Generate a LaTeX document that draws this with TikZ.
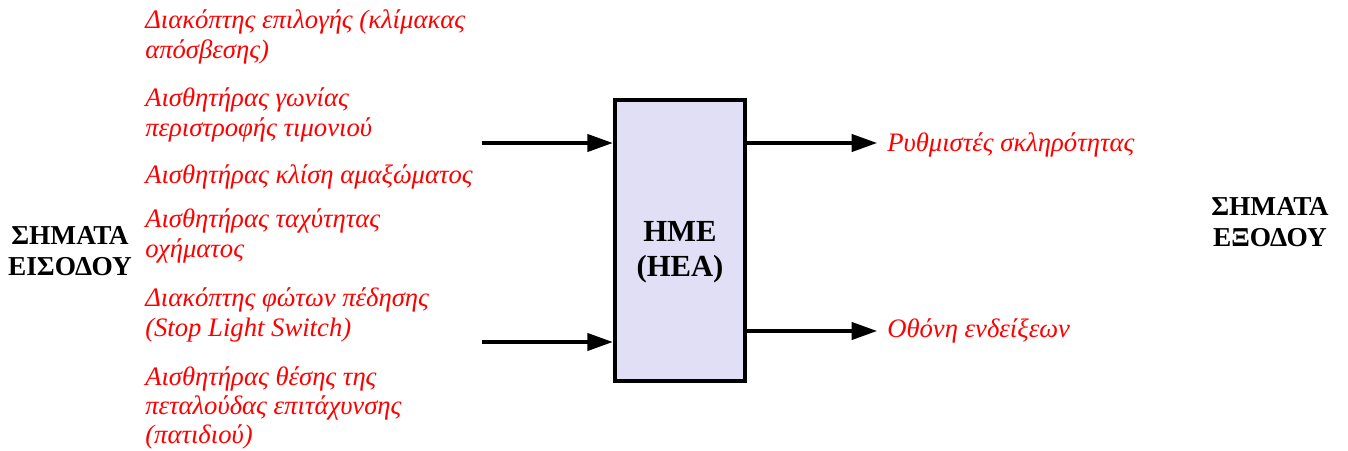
\documentclass[tikz,border=0pt]{standalone}
\usepackage{fontspec}
\setmainfont{Liberation Serif}
\newfontfamily\diagfont{Liberation Serif}
\usepackage{xcolor}
\usetikzlibrary{arrows.meta}
\definecolor{sig_red}{HTML}{FF0000}
\definecolor{ecu_fill}{HTML}{E0DFF5}

\tikzset{
    sig label/.style={anchor=west, align=left, text=sig_red, inner sep=0pt,
        font=\diagfont\fontsize{20}{22}\selectfont\itshape},
    head label/.style={align=center, inner sep=0pt,
        font=\diagfont\fontsize{20.5}{23.5}\selectfont\bfseries},
    sig arrow/.style={line width=2.3pt, -{Triangle[length=19pt, width=13pt]}},
}

\begin{document}
\begin{tikzpicture}[x=0.75pt, y=-0.75pt]
            \useasboundingbox (0, 0) rectangle (1348, 450);

            % control unit
            \node[draw, line width=3pt, fill=ecu_fill, minimum width=98pt, minimum height=211pt] (ecu) at (680, 240.5) {};
            \node[font=\diagfont\fontsize{23}{26.5}\selectfont\bfseries, align=center, inner sep=0pt] (ecutext) at (680, 252) {HME\\(HEA)};

            % input signals
            \node[sig label] (in1) at (145, 37) {Διακόπτης επιλογής (κλίμακας\\απόσβεσης)};
            \node[sig label] (in2) at (145, 115) {Αισθητήρας γωνίας\\περιστροφής τιμονιού};
            \node[sig label] (in3) at (145, 177) {Αισθητήρας κλίση αμαξώματος};
            \node[sig label] (in4) at (145, 236) {Αισθητήρας ταχύτητας\\οχήματος};
            \node[sig label] (in5) at (145, 315) {Διακόπτης φώτων πέδησης\\(Stop Light Switch)};
            \node[sig label] (in6) at (145, 408) {Αισθητήρας θέσης της\\πεταλούδας επιτάχυνσης\\(πατιδιού)};

            \node[head label] (inhead) at (70, 251) {ΣΗΜΑΤΑ\\ΕΙΣΟΔΟΥ};

            % output signals
            \node[sig label] (out1) at (887, 145) {Ρυθμιστές σκληρότητας};
            \node[sig label] (out2) at (887, 331) {Οθόνη ενδείξεων};

            \node[head label] (outhead) at (1270, 222) {ΣΗΜΑΤΑ\\ΕΞΟΔΟΥ};

            % connectors
            \coordinate (a1) at (482, 143);
            \coordinate (a2) at (482, 342);
            \coordinate (b1) at (877, 143);
            \coordinate (b2) at (877, 331);

            \draw[sig arrow] (a1) -- (a1 -| ecu.west);
            \draw[sig arrow] (a2) -- (a2 -| ecu.west);
            \draw[sig arrow] (b1 -| ecu.east) -- (b1);
            \draw[sig arrow] (b2 -| ecu.east) -- (b2);

        \end{tikzpicture}
\end{document}
